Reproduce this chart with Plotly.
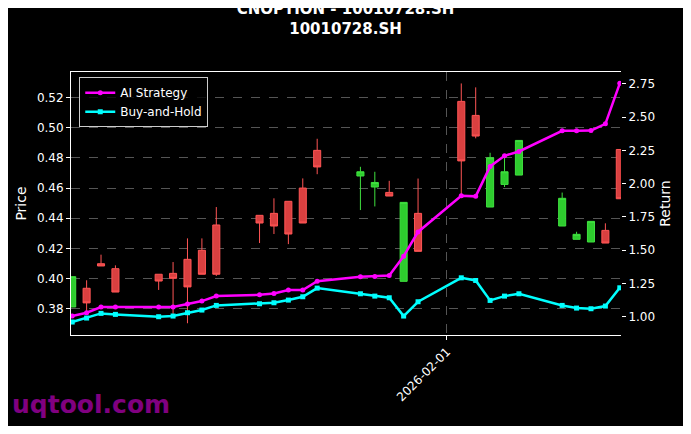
import plotly.graph_objects as go

dates = ["2026-01-06","2026-01-07","2026-01-08","2026-01-09","2026-01-12","2026-01-13","2026-01-14","2026-01-15","2026-01-16",
         "2026-01-19","2026-01-20","2026-01-21","2026-01-22","2026-01-23","2026-01-26","2026-01-27","2026-01-28","2026-01-29","2026-01-30",
         "2026-02-02","2026-02-03","2026-02-04","2026-02-05","2026-02-06","2026-02-09","2026-02-10","2026-02-11","2026-02-12","2026-02-13"]
open_ = [.3811,.3935,.4098,.4065,.4028,.4034,.4127,.4187,.4355,.4419,.4432,.4512,.4600,.4850,.4680,.4607,.4571,.3981,.4432,
         .5175,.5082,.4474,.4624,.4686,.4348,.4260,.4242,.4319,.4856]
close = [.4012,.3838,.4083,.3910,.3983,.4001,.3944,.4028,.4028,.4368,.4348,.4295,.4368,.4740,.4708,.4637,.4547,.4505,.4180,
         .4780,.4945,.4801,.4708,.4916,.4532,.4293,.4379,.4235,.4529]
high = [.4012,.3988,.4158,.4087,.4028,.4109,.4266,.4266,.4474,.4419,.4532,.4512,.4664,.4927,.4741,.4708,.4648,.4505,.4663,
        .5294,.5268,.4834,.4801,.4916,.4570,.4310,.4379,.4366,.4856]
low = [.3811,.3785,.4083,.3910,.3924,.3740,.3703,.4028,.4017,.4235,.4295,.4228,.4368,.4692,.4454,.4478,.4547,.3981,.4180,
       .4559,.4930,.4474,.4607,.4686,.4348,.4260,.4242,.4235,.4529]
ai_strategy = [1.005,1.03,1.0725,1.0725,1.0725,1.0725,1.095,1.1175,1.155,1.165,1.175,1.2,1.2,1.2675,1.30,1.3025,1.31,1.455,1.6375,
               1.91,1.905,2.13,2.21,2.2425,2.3975,2.3975,2.40,2.45,2.755]
buy_hold = [0.96,0.99,1.025,1.0175,1.0,1.005,1.03,1.05,1.085,1.0975,1.105,1.125,1.15,1.215,1.1725,1.155,1.1425,1.005,1.1125,
            1.2925,1.2725,1.1225,1.155,1.1725,1.085,1.065,1.06,1.08,1.2175]

fig = go.Figure()
fig.add_trace(go.Candlestick(x=dates, open=open_, high=high, low=low, close=close, showlegend=False,
    increasing=dict(line=dict(color="#3fe03f", width=1), fillcolor="#2ecc2e"),
    decreasing=dict(line=dict(color="#ff5555", width=1), fillcolor="#d94040"),
    whiskerwidth=0, yaxis="y"))
fig.add_trace(go.Scatter(x=dates, y=ai_strategy, name="AI Strategy", mode="lines+markers",
    line=dict(color="#ff00ff", width=2.5), marker=dict(size=5), yaxis="y2"))
fig.add_trace(go.Scatter(x=dates, y=buy_hold, name="Buy-and-Hold", mode="lines+markers",
    line=dict(color="#00ffff", width=2.5), marker=dict(size=5, symbol="square"), yaxis="y2"))

grid = dict(showgrid=True, gridcolor="#555", griddash="dash", gridwidth=0.5)
fig.update_layout(
    width=675, height=418, paper_bgcolor="black", plot_bgcolor="black",
    font=dict(family="DejaVu Sans", color="white", size=12),
    margin=dict(l=63, r=62, t=64, b=91),
    title=dict(text="<b>CNOPTION - 10010728.SH<br>10010728.SH</b>", x=0.5, xanchor="center",
               yref="container", y=0.985, yanchor="top", font=dict(size=15)),
    xaxis=dict(type="date", range=["2026-01-05 22:00", "2026-02-13 02:00"], rangeslider=dict(visible=False),
               tickvals=["2026-02-01"], ticktext=["2026-02-01"], tickangle=-45, ticks="outside", ticklen=4,
               tickcolor="white", showline=True, linecolor="white", mirror=True, automargin=False, **grid),
    yaxis=dict(title=dict(text="Price", standoff=6), range=[0.3625, 0.537], dtick=0.02, tickformat=".2f",
               ticks="outside", ticklen=4, tickcolor="white", showline=True, linecolor="white", zeroline=False,
               automargin=False, **grid),
    yaxis2=dict(title=dict(text="Return", standoff=6), overlaying="y", side="right", range=[0.8625, 2.84],
                tickvals=[1.0,1.25,1.5,1.75,2.0,2.25,2.5,2.75], tickformat=".2f", ticks="outside", ticklen=4,
                tickcolor="white", showgrid=False, zeroline=False, automargin=False),
    legend=dict(x=0.015, y=0.98, xanchor="left", yanchor="top", bgcolor="rgba(0,0,0,0.8)", bordercolor="#ccc",
                borderwidth=1, font=dict(size=12)),
    annotations=[dict(text="<b>uqtool.com</b>", xref="paper", yref="paper", x=-0.111, y=-0.2, xanchor="left",
                      yanchor="top", showarrow=False, font=dict(size=25, color="#800080"))],
)
fig.write_html("out.html")
